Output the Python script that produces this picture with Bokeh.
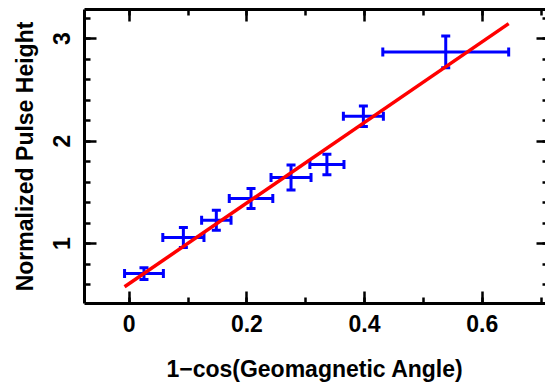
from bokeh.plotting import figure
from bokeh.models import (LinearAxis, Range1d, Whisker, ColumnDataSource,
                          TeeHead, SingleIntervalTicker)
from bokeh.embed import file_html
from bokeh.resources import INLINE

# Measurements: 1-cos(geomagnetic angle) vs normalized pulse height
angle_x = [0.025, 0.092, 0.148, 0.207, 0.275, 0.336, 0.398, 0.538]
angle_err = [0.033, 0.035, 0.025, 0.037, 0.034, 0.029, 0.034, 0.107]
pulse_y = [0.707, 1.059, 1.227, 1.439, 1.644, 1.771, 2.241, 2.869]
pulse_err = [0.057, 0.098, 0.098, 0.098, 0.122, 0.100, 0.100, 0.155]

# Linear fit: height = intercept + slope * (1 - cos)
fit_intercept = 0.61
fit_slope = 3.93

x_label = "1\u2212cos(Geomagnetic Angle)"
y_label = "Normalized Pulse Height"

FONT = "Liberation Sans"
FONT_SIZE = "23px"

src = ColumnDataSource(dict(
    x=angle_x,
    y=pulse_y,
    xlo=[a - e for a, e in zip(angle_x, angle_err)],
    xhi=[a + e for a, e in zip(angle_x, angle_err)],
    ylo=[a - e for a, e in zip(pulse_y, pulse_err)],
    yhi=[a + e for a, e in zip(pulse_y, pulse_err)],
))

p = figure(width=545, height=388, output_backend="svg", toolbar_location=None,
           x_range=Range1d(-0.0761, 0.7076), y_range=Range1d(0.415, 3.283),
           min_border_left=84, min_border_right=0, min_border_top=9,
           min_border_bottom=85, x_axis_label=x_label, y_axis_label=y_label)
p.outline_line_color = None
p.grid.visible = False
p.background_fill_color = "white"
p.border_fill_color = "white"

x_ticker = SingleIntervalTicker(interval=0.2, num_minor_ticks=2)
y_ticker = SingleIntervalTicker(interval=1, num_minor_ticks=5)


def style_axis(ax, show_labels=True, draw_line=True, tick_in=12, minor_in=6):
    ax.axis_line_color = "black" if draw_line else None
    ax.axis_line_width = 3
    ax.major_tick_in = tick_in
    ax.major_tick_out = 0
    ax.minor_tick_in = minor_in
    ax.minor_tick_out = 0
    ax.major_tick_line_color = "black"
    ax.minor_tick_line_color = "black"
    ax.major_tick_line_width = 2.5
    ax.minor_tick_line_width = 2.5
    if show_labels:
        ax.major_label_text_font = FONT
        ax.major_label_text_font_size = FONT_SIZE
        ax.major_label_text_font_style = "bold"
        ax.major_label_text_color = "black"
        ax.axis_label_text_font = FONT
        ax.axis_label_text_font_size = FONT_SIZE
        ax.axis_label_text_font_style = "bold"
        ax.axis_label_text_color = "black"
    else:
        # mirrored axes carry tick marks only
        ax.major_label_text_font_size = "0px"
        ax.major_label_standoff = 0


xa = p.xaxis[0]
xa.ticker = x_ticker
style_axis(xa)
xa.major_label_standoff = 11
xa.axis_label_standoff = 21

ya = p.yaxis[0]
ya.ticker = y_ticker
style_axis(ya)
ya.major_label_orientation = "vertical"
ya.major_label_standoff = 14
ya.axis_label_standoff = 13

top = LinearAxis(ticker=SingleIntervalTicker(interval=0.2, num_minor_ticks=2))
style_axis(top, show_labels=False)
p.add_layout(top, "above")

right = LinearAxis(ticker=SingleIntervalTicker(interval=1, num_minor_ticks=5))
style_axis(right, show_labels=False, draw_line=False, tick_in=9, minor_in=3)
p.add_layout(right, "right")

# Error bars
p.add_layout(Whisker(source=src, base="y", lower="xlo", upper="xhi",
                     dimension="width", line_color="blue", line_width=3,
                     upper_head=TeeHead(size=9, line_color="blue", line_width=3),
                     lower_head=TeeHead(size=9, line_color="blue", line_width=3)))
p.add_layout(Whisker(source=src, base="x", lower="ylo", upper="yhi",
                     dimension="height", line_color="blue", line_width=3,
                     upper_head=TeeHead(size=9, line_color="blue", line_width=3),
                     lower_head=TeeHead(size=9, line_color="blue", line_width=3)))

# Fit line across the span of the data including x errors
fit_x0 = min(src.data["xlo"])
fit_x1 = max(src.data["xhi"])
p.line(x=[fit_x0, fit_x1],
       y=[fit_intercept + fit_slope * fit_x0, fit_intercept + fit_slope * fit_x1],
       line_color="red", line_width=3.5)

open("out.html", "w").write(file_html(p, INLINE))
